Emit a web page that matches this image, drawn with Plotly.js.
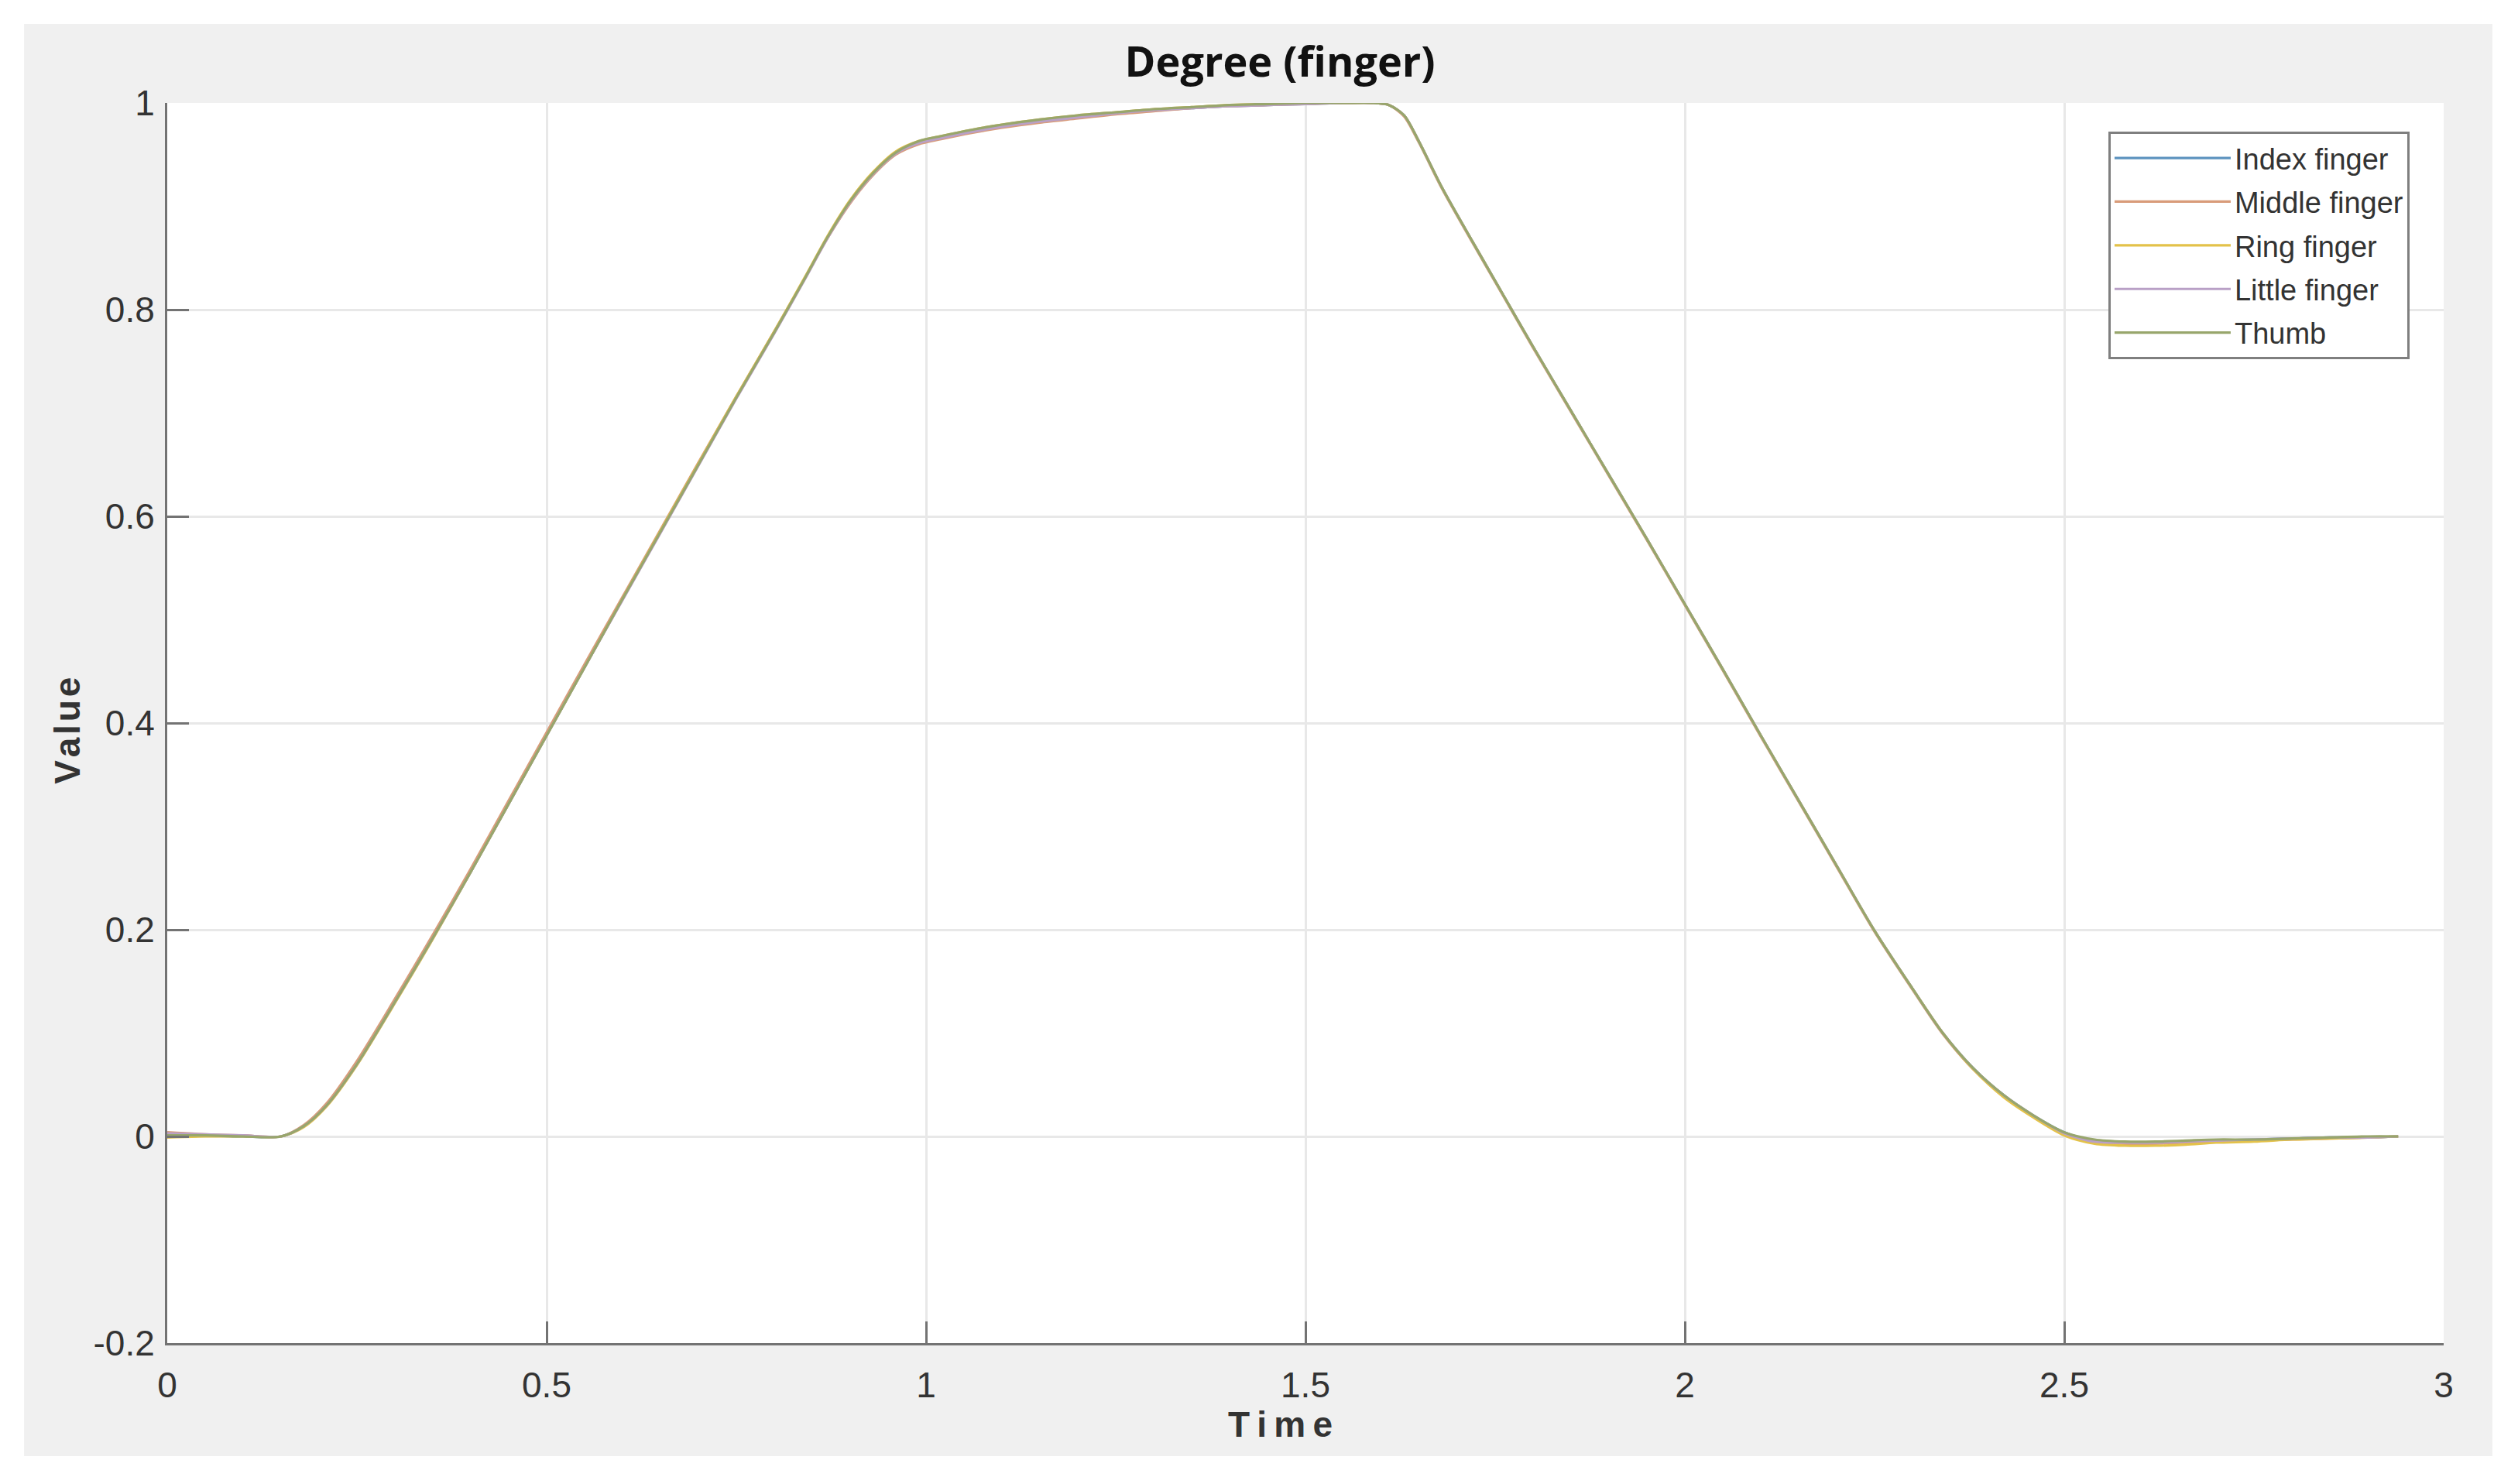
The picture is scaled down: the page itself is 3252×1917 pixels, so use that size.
<!DOCTYPE html>
<html>
<head>
<meta charset="utf-8">
<script src="https://cdn.plot.ly/plotly-3.0.1.min.js"></script>
<style>
  html, body { margin: 0; padding: 0; background: #ffffff; }
  #graph1 { width: 3252px; height: 1917px; }
</style>
</head>
<body>
<div id="graph1"></div>
<script>
// time axis (s), shared by all fingers
let timeArray = [0, 0.05, 0.10, 0.15, 0.18, 0.21, 0.25,
  0.30, 0.35, 0.40, 0.45, 0.50, 0.55, 0.60, 0.65, 0.70, 0.75, 0.80,
  0.84, 0.87, 0.90, 0.93, 0.96, 0.99,
  1.02, 1.06, 1.10,
  1.15, 1.20, 1.25, 1.30, 1.35, 1.40, 1.45, 1.50, 1.55,
  1.59, 1.61, 1.63, 1.65, 1.68, 1.72, 1.76,
  1.80, 1.85, 1.90, 1.95, 2.00, 2.05, 2.10, 2.15, 2.20, 2.25, 2.30,
  2.34, 2.38, 2.42, 2.46, 2.50, 2.54, 2.58, 2.62, 2.66, 2.70,
  2.75, 2.80, 2.85, 2.90, 2.94];

let indexFinger = [0.002, 0.001, 0.000, 0.000, 0.010, 0.030, 0.070,
  0.130, 0.192, 0.256, 0.322, 0.388, 0.454, 0.520, 0.585, 0.650, 0.715, 0.778,
  0.830, 0.870, 0.905, 0.932, 0.952, 0.962,
  0.967, 0.973, 0.978,
  0.983, 0.987, 0.990, 0.993, 0.995, 0.997, 0.998, 0.999, 1.000,
  1.000, 0.998, 0.988, 0.962, 0.918, 0.866, 0.815,
  0.764, 0.702, 0.640, 0.578, 0.515, 0.452, 0.388, 0.325, 0.262, 0.199, 0.143,
  0.100, 0.066, 0.040, 0.020, 0.004, -0.004, -0.006, -0.006, -0.005, -0.004,
  -0.003, -0.002, -0.001, -0.001, 0.000];

let middleFinger = [0.004, 0.002, 0.001, 0.000, 0.011, 0.032, 0.073,
  0.133, 0.195, 0.259, 0.325, 0.391, 0.457, 0.522, 0.587, 0.652, 0.716, 0.779,
  0.830, 0.869, 0.903, 0.930, 0.950, 0.960,
  0.965, 0.971, 0.976,
  0.981, 0.985, 0.989, 0.992, 0.995, 0.997, 0.998, 0.999, 1.000,
  1.000, 0.998, 0.987, 0.961, 0.917, 0.865, 0.814,
  0.763, 0.701, 0.639, 0.577, 0.514, 0.451, 0.387, 0.324, 0.261, 0.198, 0.142,
  0.099, 0.065, 0.039, 0.019, 0.003, -0.005, -0.007, -0.007, -0.006, -0.005,
  -0.004, -0.003, -0.002, -0.001, 0.000];

let ringFinger = [-0.001, 0.000, 0.000, 0.000, 0.009, 0.029, 0.069,
  0.129, 0.191, 0.256, 0.322, 0.388, 0.454, 0.520, 0.586, 0.651, 0.716, 0.779,
  0.831, 0.871, 0.906, 0.933, 0.953, 0.963,
  0.968, 0.974, 0.979,
  0.984, 0.988, 0.991, 0.994, 0.996, 0.998, 0.999, 1.000, 1.000,
  1.000, 0.998, 0.988, 0.962, 0.918, 0.866, 0.815,
  0.764, 0.702, 0.640, 0.578, 0.515, 0.452, 0.388, 0.325, 0.262, 0.199, 0.143,
  0.100, 0.065, 0.038, 0.018, 0.001, -0.007, -0.009, -0.009, -0.008, -0.006,
  -0.005, -0.003, -0.002, -0.001, 0.000];

let littleFinger = [0.003, 0.002, 0.001, 0.000, 0.010, 0.030, 0.070,
  0.130, 0.192, 0.256, 0.322, 0.388, 0.454, 0.519, 0.584, 0.649, 0.714, 0.777,
  0.829, 0.869, 0.904, 0.931, 0.951, 0.961,
  0.966, 0.972, 0.977,
  0.982, 0.986, 0.990, 0.993, 0.995, 0.997, 0.998, 0.999, 1.000,
  1.000, 0.998, 0.988, 0.962, 0.918, 0.866, 0.815,
  0.764, 0.702, 0.640, 0.578, 0.515, 0.452, 0.388, 0.325, 0.262, 0.199, 0.143,
  0.100, 0.066, 0.040, 0.020, 0.003, -0.005, -0.006, -0.006, -0.005, -0.004,
  -0.003, -0.002, -0.001, -0.001, 0.000];

let thumb = [0.001, 0.001, 0.000, 0.000, 0.010, 0.030, 0.070,
  0.130, 0.192, 0.256, 0.322, 0.388, 0.454, 0.520, 0.585, 0.650, 0.715, 0.778,
  0.830, 0.870, 0.905, 0.932, 0.952, 0.963,
  0.968, 0.974, 0.979,
  0.984, 0.988, 0.991, 0.994, 0.996, 0.998, 0.999, 1.000, 1.000,
  1.000, 0.998, 0.988, 0.962, 0.918, 0.866, 0.815,
  0.764, 0.702, 0.640, 0.578, 0.515, 0.452, 0.388, 0.325, 0.262, 0.199, 0.143,
  0.100, 0.066, 0.040, 0.020, 0.004, -0.003, -0.005, -0.005, -0.004, -0.003,
  -0.003, -0.002, -0.001, 0.000, 0.000];

let seriesNames = ['Index finger', 'Middle finger', 'Ring finger', 'Little finger', 'Thumb'];
let seriesValues = [indexFinger, middleFinger, ringFinger, littleFinger, thumb];
let colorArray = ['#5d93bf', '#d99c7a', '#e3c24a', '#b9a0c6', '#98a66c'];

// MATLAB style labels (plain hyphen for the minus)
let yTickVals = [-0.2, 0, 0.2, 0.4, 0.6, 0.8, 1];
let yTickText = ['-0.2', '0', '0.2', '0.4', '0.6', '0.8', '1'];
let xTickVals = [0, 0.5, 1, 1.5, 2, 2.5, 3];
let xTickText = ['0', '0.5', '1', '1.5', '2', '2.5', '3'];

let traceArray = [];
for (let i = 0; i < seriesNames.length; i++)
{
  traceArray.push({
    x: timeArray,
    y: seriesValues[i],
    name: seriesNames[i],
    legendgroup: 'g' + i,
    mode: 'lines',
    type: 'scatter',
    line: { color: colorArray[i], width: 3.2, shape: 'spline', smoothing: 0.8 }
  });
}

let tickFont = { family: 'Liberation Sans, Arial, sans-serif', size: 46, color: '#333333' };
let labelFont = { family: 'Liberation Sans, Arial, sans-serif', size: 46, color: '#333333', weight: 700 };

var layout = {
  width: 3252,
  height: 1917,
  paper_bgcolor: '#ffffff',
  plot_bgcolor: 'rgba(0,0,0,0)',
  margin: { l: 216, r: 96, t: 133, b: 182 },
  title: {
    text: 'Degree (finger)',
    font: { family: 'Open Sans, Noto Sans, sans-serif', size: 54, color: '#111111', weight: 700 },
    x: 0.4888, xref: 'paper', xanchor: 'center',
    y: 0.958, yref: 'container', yanchor: 'middle'
  },
  xaxis: {
    range: [0, 3],
    tickmode: 'array',
    tickvals: xTickVals,
    ticktext: xTickText,
    showline: true,
    linecolor: '#737373',
    linewidth: 3,
    mirror: false,
    ticks: 'inside',
    ticklen: 28,
    tickwidth: 3,
    tickcolor: '#737373',
    tickfont: tickFont,
    ticklabelstandoff: 12,
    showgrid: true,
    gridcolor: '#e8e8e8',
    gridwidth: 3,
    zeroline: false
  },
  yaxis: {
    range: [-0.2, 1],
    tickmode: 'array',
    tickvals: yTickVals,
    ticktext: yTickText,
    showline: true,
    linecolor: '#737373',
    linewidth: 3,
    mirror: false,
    ticks: 'inside',
    ticklen: 28,
    tickwidth: 3,
    tickcolor: '#737373',
    tickfont: tickFont,
    ticklabelstandoff: 4,
    showgrid: true,
    gridcolor: '#e8e8e8',
    gridwidth: 3,
    zeroline: false
  },
  annotations: [
    { text: 'T\u2009i\u2009m\u2009e', xref: 'paper', yref: 'paper', x: 0.4888, y: -0.0655,
      xanchor: 'center', yanchor: 'middle', showarrow: false, font: labelFont },
    { text: 'V\u200aa\u200al\u200au\u200ae', xref: 'paper', yref: 'paper', x: -0.0439, y: 0.4938,
      xanchor: 'center', yanchor: 'middle', textangle: -90, showarrow: false, font: labelFont }
  ],
  legend: {
    x: 0.8527, xanchor: 'left',
    y: 0.977, yanchor: 'top',
    bgcolor: '#ffffff',
    bordercolor: '#7f7f7f',
    borderwidth: 3,
    itemwidth: 150,
    tracegroupgap: 4,
    font: { family: 'Liberation Sans, Arial, sans-serif', size: 38, color: '#333333' }
  },
  shapes: [
    // grey figure window
    { type: 'rect', xref: 'paper', yref: 'paper', x0: -0.0629, x1: 1.0214, y0: -0.0911, y1: 1.0637,
      fillcolor: '#f0f0f0', line: { width: 0 }, layer: 'below' },
    // white axes area
    { type: 'rect', xref: 'paper', yref: 'paper', x0: 0, x1: 1, y0: 0, y1: 1,
      fillcolor: '#ffffff', line: { width: 0 }, layer: 'below' }
  ],
  showlegend: true
};

Plotly.newPlot('graph1', traceArray, layout, { displayModeBar: false, staticPlot: true });
</script>
</body>
</html>
